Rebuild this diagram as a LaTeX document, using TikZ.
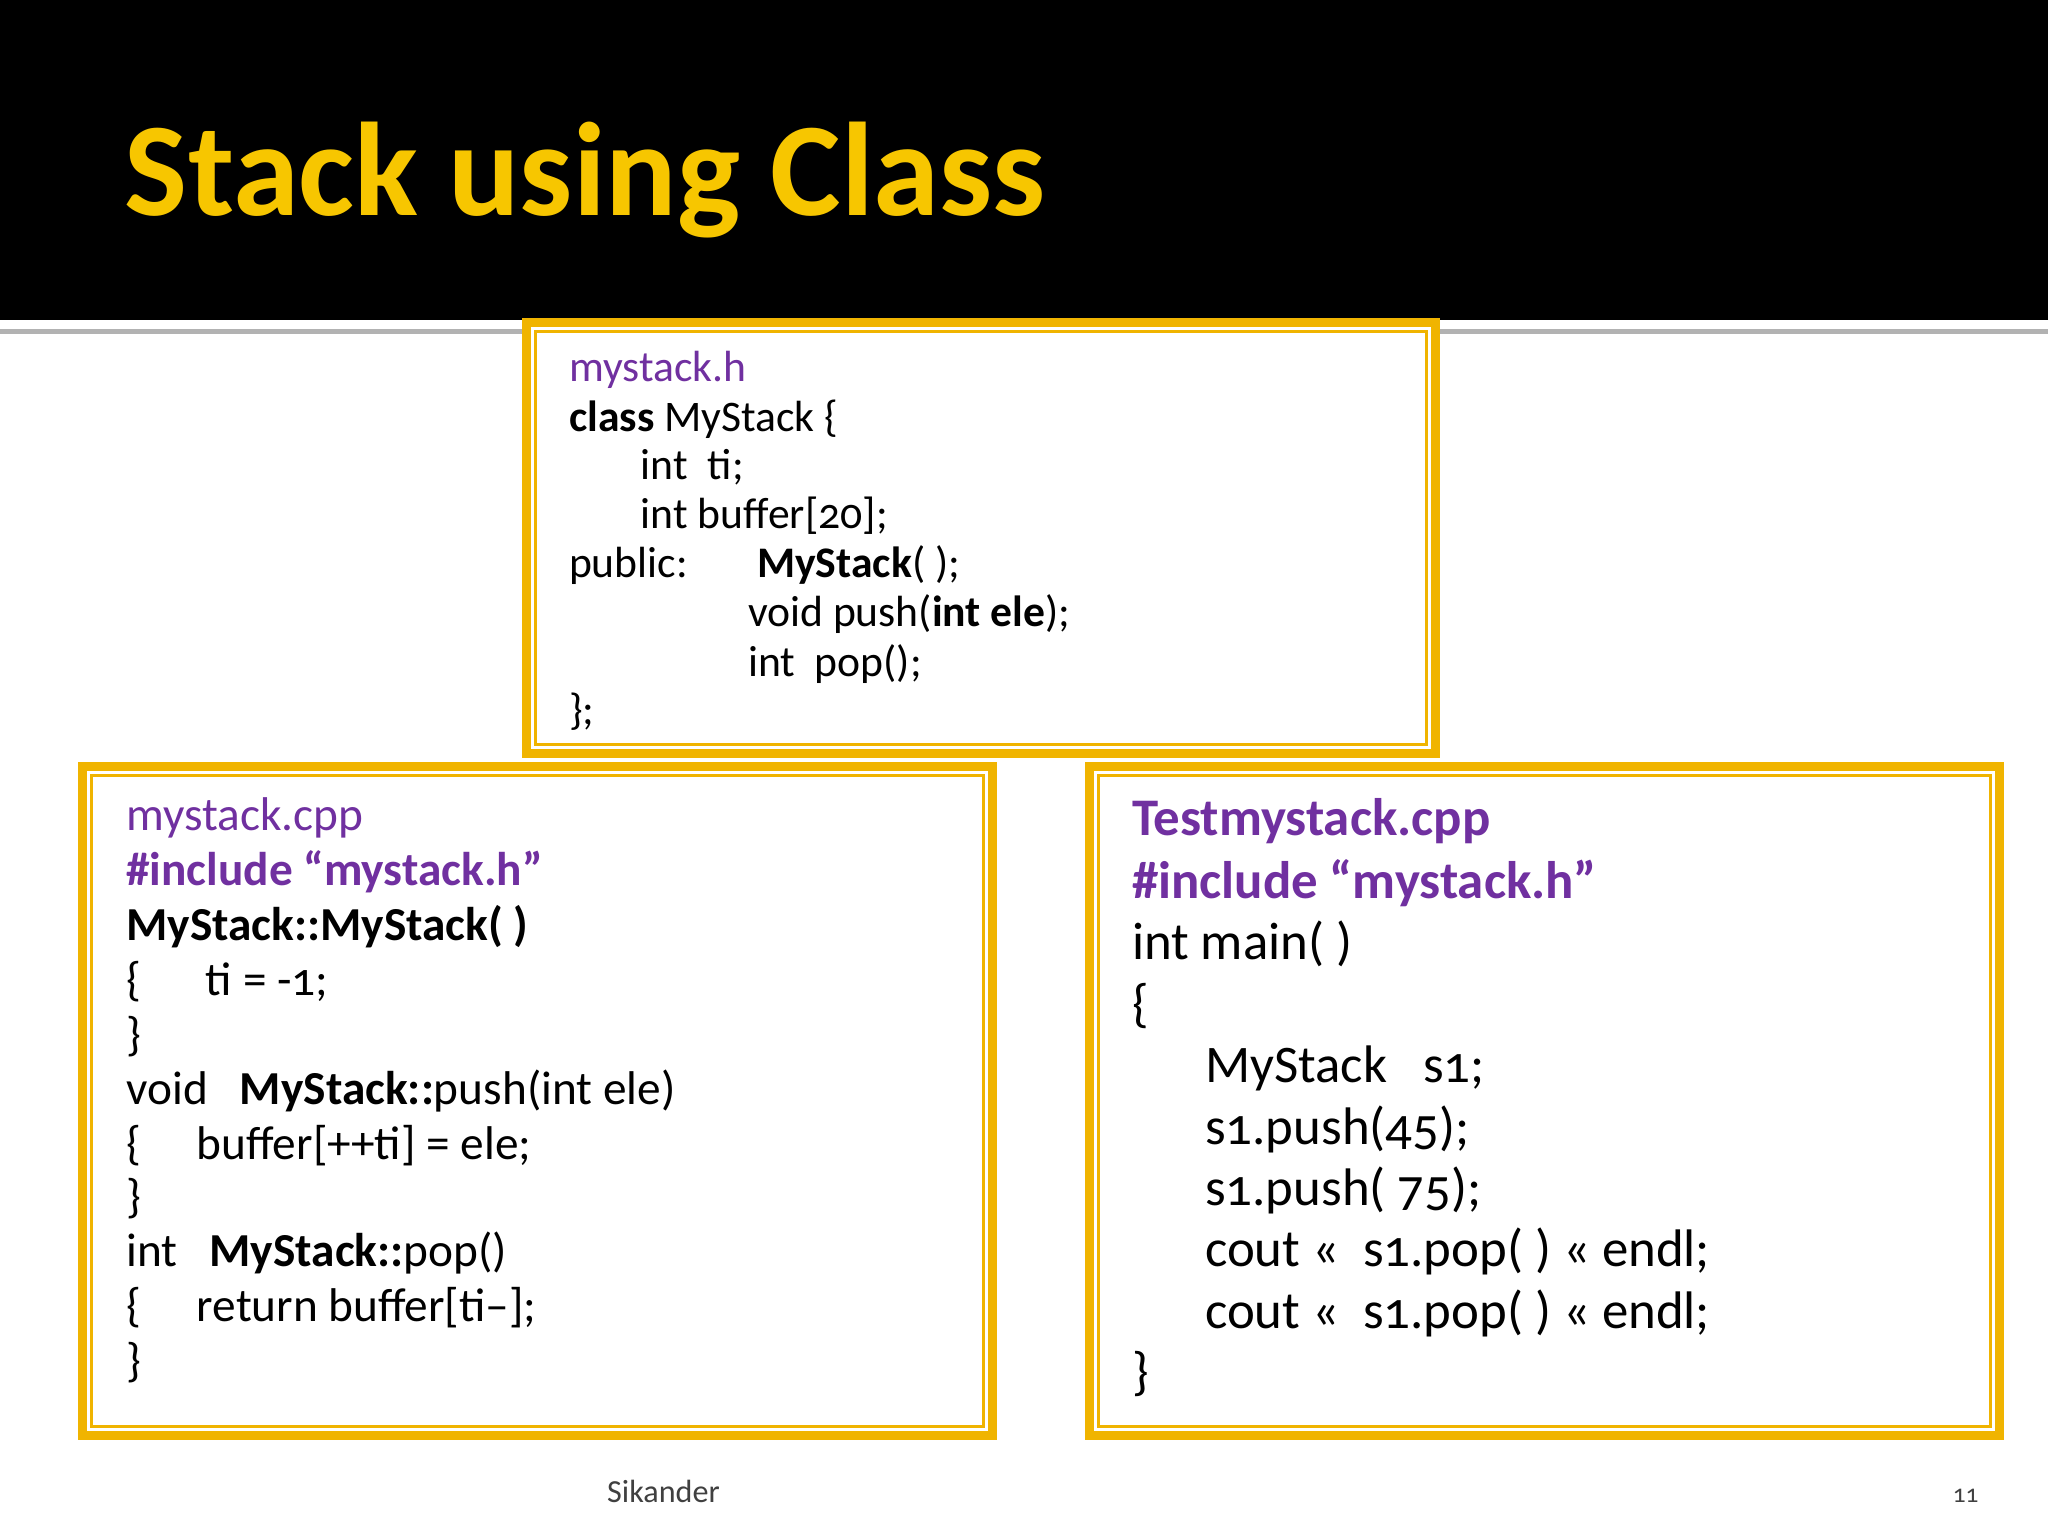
\documentclass[tikz,border=0pt]{standalone}
\usepackage{fontspec}
\setmainfont{Carlito}[Numbers=OldStyle]
\definecolor{ttl}{HTML}{F7C600}
\definecolor{boxy}{HTML}{F0B400}
\definecolor{purp}{HTML}{7030A0}
\tikzset{x=0.01cm,y=-0.01cm,
 ln/.style={anchor=base west,inner sep=0pt},
 t/.style={ln,font=\fontsize{9.5}{11}\selectfont},
 l/.style={ln,font=\fontsize{10.3}{12}\selectfont},
 r/.style={ln,font=\fontsize{11.5}{13}\selectfont},
 obox/.style={draw=boxy,line width=2pt},
 ibox/.style={draw=boxy,line width=0.6pt}}
\begin{document}
\begin{tikzpicture}
\useasboundingbox (0,0) rectangle (1568,1176);
\fill[white] (0,0) rectangle (1568,1176);
\fill[black] (0,0) rectangle (1568,245);
\fill[gray!60] (0,252) rectangle (1568,256);
\node[ln,text=ttl,font=\fontsize{29}{32}\selectfont\bfseries] (title) at (95,165) {Stack using Class};
% boxes
\draw[obox,fill=white] (403,247) rectangle (1099,577);
\draw[ibox] (410,254) rectangle (1092,570);
\draw[obox] (63,587) rectangle (760,1099);
\draw[ibox] (70,594) rectangle (753,1092);
\draw[obox] (834,587) rectangle (1531,1099);
\draw[ibox] (841,594) rectangle (1524,1092);
% top
\node[t,text=purp] (h1) at (435,292) {mystack.h};
\node[t] (h2) at (435,330) {\textbf{class} MyStack \{};
\node[t] (h3) at (490,367) {int\ \ ti;};
\node[t] (h4) at (490,405) {int buffer[20];};
\node[t] (h5) at (435,442) {public:};
\node[t] (h5b) at (579,442) {\textbf{MyStack}( );};
\node[t] (h6) at (572,480) {void push(\textbf{int ele});};
\node[t] (h7) at (572,518) {int\ \ pop();};
\node[t] (h8) at (435,555) {\};};
% left
\node[l,text=purp] (c1) at (96,636) {mystack.cpp};
\node[l,text=purp] (c2) at (96,678) {\textbf{\#include “mystack.h”}};
\node[l] (c3) at (96,720) {\textbf{MyStack::MyStack( )}};
\node[l] (c4) at (96,762) {\{};
\node[l] (c4b) at (157,762) {ti = -1;};
\node[l] (c5) at (96,804) {\}};
\node[l] (c6) at (96,846) {void\ \ \ \textbf{MyStack::}push(int ele)};
\node[l] (c7) at (96,888) {\{};
\node[l] (c7b) at (150,888) {buffer[++ti] = ele;};
\node[l] (c8) at (96,928) {\}};
\node[l] (c9) at (96,970) {int\ \ \ \textbf{MyStack::}pop()};
\node[l] (c10) at (96,1012) {\{};
\node[l] (c10b) at (150,1012) {return buffer[ti--];};
\node[l] (c11) at (96,1054) {\}};
% right
\node[r,text=purp] (m1) at (866,640) {\textbf{Testmystack.cpp}};
\node[r,text=purp] (m2) at (866,688) {\textbf{\#include “mystack.h”}};
\node[r] (m3) at (866,735) {int main( )};
\node[r] (m4) at (866,782) {\{};
\node[r] (m5) at (922,829) {MyStack\ \ \ s1;};
\node[r] (m6) at (922,876) {s1.push(45);};
\node[r] (m7) at (922,923) {s1.push( 75);};
\node[r] (m8) at (922,970) {cout <<\ \ s1.pop( ) << endl;};
\node[r] (m9) at (922,1017) {cout <<\ \ s1.pop( ) << endl;};
\node[r] (m10) at (866,1064) {\}};
% footer
\node[inner sep=0pt,anchor=base,text=black!75,font=\fontsize{7}{8}\selectfont] (ft) at (508,1150) {Sikander};
\node[inner sep=0pt,anchor=base,text=black!75,font=\fontsize{5.5}{6}\selectfont] (pg) at (1505,1150) {11};
\end{tikzpicture}
\end{document}
